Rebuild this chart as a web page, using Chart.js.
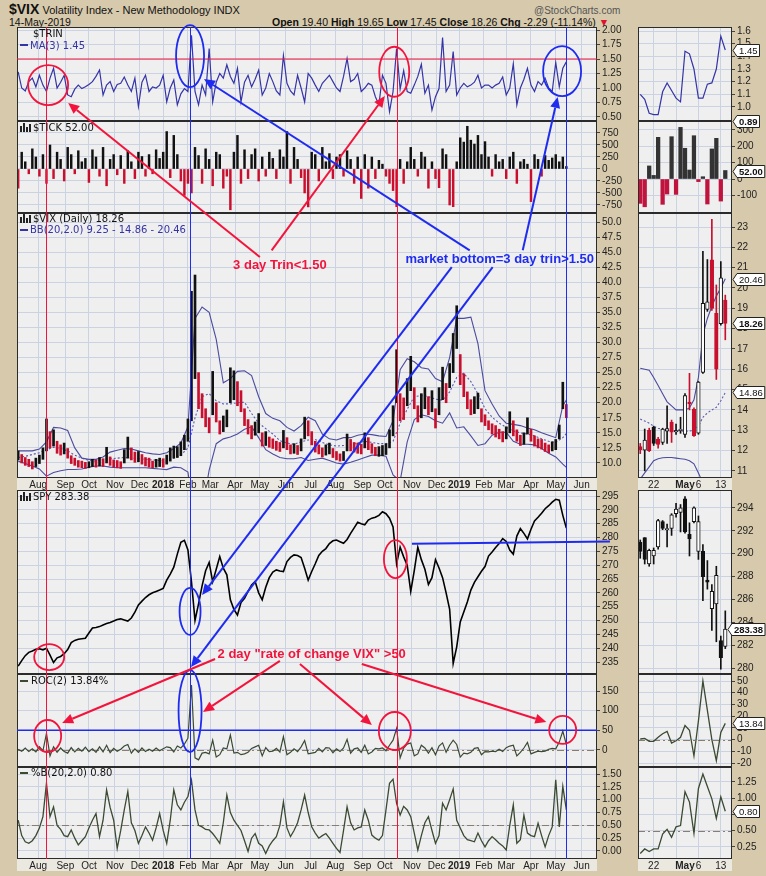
<!DOCTYPE html>
<html>
<head>
<meta charset="utf-8">
<title>$VIX Volatility Index - New Methodology</title>
<script src="https://cdn.jsdelivr.net/npm/chart.js@4.4.1/dist/chart.umd.min.js"></script>
<style>
  html, body { margin: 0; padding: 0; }
  body { width: 766px; height: 876px; position: relative; overflow: hidden; background: #d7c9ab; font-family: "Liberation Sans", Arial, sans-serif; }
  canvas { position: absolute; }
  .hd { position: absolute; white-space: nowrap; color: #111; }
</style>
</head>
<body>
<div class="hd" style="left:9px;top:1px;font-size:11px"><b style="font-size:14px">$VIX</b> Volatility Index - New Methodology INDX</div>
<div class="hd" style="left:534px;top:5px;font-size:10px;color:#555">@StockCharts.com</div>
<div class="hd" style="left:9px;top:16px;font-size:10.5px">14-May-2019</div>
<div class="hd" style="left:272px;top:16px;font-size:10.5px"><b>Open</b> 19.40 <b>High</b> 19.65 <b>Low</b> 17.45 <b>Close</b> 18.26 <b>Chg</b> -2.29 (-11.14%) <span style="color:#e0102c">&#9660;</span></div>
<script>
// ---------- data (main panels: one value every 3 trading days, day 0 = 7-Jul-2017) ----------
const monthLabels = ['Aug','Sep','Oct','Nov','Dec','2018','Feb','Mar','Apr','May','Jun','Jul','Aug','Sep','Oct','Nov','Dec','2019','Feb','Mar','Apr','May','Jun'];
const monthDays = [17,40,60,82,103,123,144,163,184,205,227,248,269,292,311,334,355,374,395,414,435,456,478];

const trinMA = [
  1.28,1.00,0.95,1.11,1.17,1.02,1.22,1.05,0.94,1.17,
  1.34,1.00,1.10,1.22,0.88,0.85,0.98,1.05,0.99,1.02,
  1.06,1.11,1.20,1.31,0.88,1.05,1.11,0.94,1.06,1.08,
  1.19,1.05,0.94,1.17,0.68,1.10,1.22,0.94,1.02,1.00,
  1.05,1.22,0.76,1.00,1.14,0.71,0.90,0.99,0.94,1.91,
  0.94,0.71,1.05,0.88,1.68,0.76,1.10,1.25,1.17,1.40,
  1.20,1.08,1.34,0.76,1.10,1.22,1.02,1.15,1.31,0.88,
  1.00,1.25,1.11,0.95,0.88,1.56,1.08,0.95,0.88,1.22,
  1.00,0.76,1.25,1.17,1.05,0.94,1.08,1.15,1.22,1.11,
  1.00,0.94,1.20,1.51,1.11,1.15,1.25,0.94,1.00,1.08,
  1.05,0.85,0.71,1.22,1.08,0.59,0.94,1.68,0.98,1.30,
  0.94,0.91,1.05,1.20,1.41,0.91,1.05,0.62,0.85,0.99,
  1.87,0.94,1.05,1.63,0.88,1.00,1.08,1.02,1.05,1.10,
  1.22,1.00,1.05,1.05,1.00,1.05,1.08,1.19,0.88,1.00,
  1.42,0.71,1.00,1.15,1.34,1.05,0.94,1.11,1.05,1.17,
  1.00,0.94,1.44,1.02,1.34,1.45
];

const tickVals = [
  -400,350,150,-100,420,250,-150,300,-300,500,
  -200,350,200,-250,450,300,-100,380,150,220,
  -280,400,250,-150,450,-350,200,300,-120,280,
  -300,380,150,-200,350,260,-150,300,-100,400,
  220,350,780,-180,700,300,-250,-550,-300,-500,
  450,280,-300,420,200,-350,350,300,-400,-150,
  -850,350,700,-300,400,-200,300,420,-250,250,
  -150,350,220,-200,400,250,780,-300,450,200,
  -180,-500,-790,350,300,-250,450,150,320,-200,
  250,300,-150,380,200,-300,250,-614,300,-400,
  250,-200,180,100,-150,-300,-450,-785,200,-300,
  150,450,200,-150,350,250,-400,150,-200,-390,
  420,300,-750,-785,150,650,560,890,600,520,
  700,300,570,250,-150,300,150,200,-200,250,
  350,-300,150,200,100,-680,300,200,-150,280,
  180,230,300,150,250,52
];

const vixLow = [
  10.5,10.0,9.6,9.4,9.0,9.4,9.9,10.6,12.0,12.5,
  12.8,11.6,11.3,11.5,10.8,9.9,9.6,9.3,9.2,9.1,
  9.2,9.4,9.3,9.5,9.4,10.0,9.6,9.3,9.2,9.1,
  10.0,10.8,10.5,10.1,10.2,9.8,9.5,9.3,9.2,9.3,
  9.4,9.3,9.8,10.3,10.8,10.9,11.2,12.2,13.6,17.0,
  24.0,19.0,17.5,16.0,15.0,18.0,16.8,14.8,15.2,16.0,
  20.0,20.5,19.5,18.5,16.2,14.8,14.0,14.6,15.0,12.8,
  12.9,12.6,12.4,12.1,11.9,12.5,12.2,11.5,11.6,11.4,
  12.0,14.0,14.5,13.0,11.8,11.5,11.0,11.3,11.5,10.9,
  10.5,10.3,10.4,12.0,12.0,11.8,11.6,11.5,12.5,12.2,
  11.6,11.2,11.1,11.2,11.4,12.5,14.5,20.0,17.0,17.2,
  19.5,22.0,19.0,16.8,17.5,19.0,18.0,18.5,15.8,18.0,
  20.5,20.0,22.5,25.0,29.0,23.0,21.0,19.0,18.0,18.2,
  19.0,16.8,16.2,15.5,14.8,14.3,14.0,13.5,14.0,15.0,
  14.5,13.6,12.9,13.1,14.8,13.6,12.8,12.5,12.3,11.9,
  11.7,12.0,12.2,14.0,19.0,17.5
];
const vixHigh = [
  12.0,11.4,10.9,10.6,10.2,10.8,11.3,12.5,17.3,15.2,
  15.5,13.6,13.0,13.3,12.4,11.2,10.8,10.4,10.3,10.1,
  10.2,10.6,10.5,10.9,10.7,12.6,11.0,10.5,10.4,10.2,
  12.2,14.3,12.5,11.8,11.9,11.4,10.9,10.8,10.3,10.6,
  10.8,10.7,11.3,12.5,12.8,12.7,13.5,14.6,17.3,38.5,
  41.2,25.0,21.5,19.0,17.5,25.2,20.0,17.0,17.8,18.8,
  25.8,25.3,23.5,22.0,19.0,17.2,16.2,16.8,18.2,15.0,
  15.2,14.3,14.0,13.6,13.4,15.4,14.2,13.0,13.2,12.9,
  14.0,17.6,17.0,15.2,13.6,13.0,12.5,13.0,13.3,12.4,
  11.9,11.5,11.9,14.8,13.9,13.4,13.3,13.1,15.0,14.2,
  13.2,12.6,12.7,12.9,13.2,15.5,19.5,28.8,21.5,20.8,
  24.0,27.7,22.5,19.5,21.5,22.5,21.0,22.0,19.0,22.5,
  25.9,23.2,26.5,31.5,36.1,28.0,24.8,21.8,20.5,21.0,
  21.6,19.0,18.0,17.0,16.5,16.2,15.6,15.2,16.0,18.5,
  17.0,15.5,14.6,15.0,17.5,15.6,14.5,14.0,13.9,13.3,
  13.0,13.5,13.9,16.3,23.4,19.7
];

// Bollinger bands: one value every 6 trading days, last value = 14-May-2019
const bbUpper = [
  12.0,12.0,12.0,12.3,13.5,15.9,15.8,15.4,12.5,10.8,
  10.6,10.6,11.0,11.8,12.1,12.4,12.3,12.0,11.7,11.5,
  11.4,11.7,12.4,13.3,16.0,34.0,35.9,35.0,30.5,23.3,
  24.0,25.2,25.3,24.5,21.0,18.2,17.4,17.0,15.9,15.3,
  16.2,17.6,17.0,14.8,14.0,13.8,14.2,14.2,14.6,14.8,
  14.7,14.5,14.4,17.0,25.5,27.3,26.8,25.8,25.6,24.0,
  23.5,27.5,34.0,34.0,34.2,29.8,22.0,19.8,17.8,16.6,
  16.4,16.2,15.8,15.5,15.0,14.6,14.2,19.5,20.46
];
const bbMid = [
  10.9,11.1,11.4,11.7,12.2,12.6,12.4,12.0,11.3,10.8,
  10.4,10.3,10.5,10.7,10.8,10.9,10.8,10.7,10.6,10.5,
  10.4,10.3,10.8,11.3,12.5,17.5,21.0,21.5,20.3,19.8,
  19.8,20.0,20.1,18.2,16.6,15.7,14.8,13.7,13.3,13.1,
  13.5,13.8,13.9,13.4,13.0,12.8,12.9,13.0,13.3,13.6,
  13.4,13.2,13.2,13.6,16.6,18.9,21.0,21.2,21.0,20.6,
  20.4,21.8,24.2,24.9,23.5,21.5,19.0,17.6,16.6,15.9,
  15.3,15.0,14.8,14.5,14.0,13.6,13.4,14.2,14.86
];
const bbLower = [
  10.3,9.9,9.5,9.0,7.8,8.4,8.7,8.9,8.9,9.0,
  9.3,9.5,9.5,9.3,9.2,9.2,9.2,9.2,9.2,9.1,
  9.0,8.9,9.3,9.2,8.5,0.0,2.0,8.8,13.2,14.0,
  14.3,14.8,15.6,16.0,14.2,12.2,11.5,10.9,10.7,10.7,
  10.9,10.4,10.6,10.8,10.4,10.0,9.8,10.1,10.5,10.9,
  11.3,11.3,11.1,8.0,7.0,13.5,17.2,18.0,17.7,17.0,
  16.6,18.3,15.8,16.0,14.5,12.9,13.2,14.6,15.1,15.1,
  13.6,13.1,13.1,13.0,12.4,11.6,11.0,9.8,9.25
];

const spyClose = [
  233.5,235.5,237.3,238.5,239.0,239.6,239.8,239.4,240.0,237.5,
  234.8,236.5,237.0,238.0,239.5,242.0,242.8,243.2,243.4,243.6,
  245.5,247.3,247.5,247.8,248.4,248.9,249.3,249.8,250.4,250.6,
  250.2,249.8,250.9,253.0,255.6,257.0,258.3,259.3,260.0,260.5,
  261.0,261.6,264.6,266.8,269.3,274.0,278.3,279.0,275.5,264.0,
  250.0,256.0,262.5,268.0,271.0,264.0,268.5,273.1,268.9,266.5,
  257.5,254.0,252.0,256.5,258.0,260.5,262.8,264.1,260.0,257.5,
  262.0,265.5,267.5,268.3,267.9,267.7,271.3,272.8,273.7,273.5,
  272.8,268.9,264.6,267.7,270.5,273.5,275.0,276.0,277.8,278.8,
  279.1,278.5,277.9,279.3,281.5,283.5,285.5,285.0,284.6,286.3,
  287.0,287.3,288.0,289.3,288.6,287.0,283.8,270.5,276.5,273.0,
  270.0,260.5,268.0,276.5,272.0,268.5,263.0,265.5,272.0,269.0,
  265.5,260.0,254.0,234.5,240.5,249.5,253.1,256.7,261.0,263.8,
  265.8,267.8,269.5,273.3,274.8,276.4,277.8,279.6,278.6,275.5,
  274.0,280.5,283.2,281.5,279.5,283.0,286.0,287.3,288.8,290.4,
  291.5,292.8,293.8,293.5,288.0,283.4
];

const roc2 = [
  2,-3,5,-4,3,-5,8,-2,42,-15,
  8,-6,5,-4,-8,6,-5,4,-3,7,
  -4,3,-6,8,-5,12,-7,4,-3,2,
  10,14,-8,3,-6,5,-4,2,-3,5,
  -2,3,8,6,-5,10,5,15,30,165,
  -20,-25,-8,-6,-10,25,-18,-12,5,3,
  38,-8,-6,-12,-10,-6,4,8,12,-15,
  6,-4,-3,4,-5,34,-12,-6,3,-4,
  8,24,-10,-8,-6,4,-5,6,5,-7,
  3,-4,5,27,-8,3,5,-6,12,-10,
  -5,4,3,5,-2,12,25,55,-20,5,
  15,18,-15,-10,12,5,-8,6,-12,10,
  18,-6,12,25,14,-18,-8,-10,-6,4,
  6,-12,-4,-5,-3,-4,2,-4,6,10,
  12,-15,-6,5,19,-10,-6,-3,-4,-3,
  2,4,3,20,48,13.84
];

const pctB = [
  0.60,0.30,0.18,0.15,0.20,0.30,0.45,0.67,1.32,0.67,
  0.86,0.50,0.42,0.30,0.28,0.41,0.25,0.12,0.20,0.28,
  0.45,0.60,0.73,0.28,0.60,1.19,0.85,0.60,0.05,0.40,
  0.80,1.16,0.55,0.40,0.15,0.30,0.47,0.35,0.21,0.45,
  0.73,0.40,0.15,0.60,1.19,0.90,0.80,0.95,1.06,1.38,
  0.80,0.50,0.47,0.42,0.41,0.34,0.25,0.15,0.55,1.09,
  0.75,0.60,0.50,0.40,0.20,-0.01,0.25,0.34,0.15,0.10,
  -0.05,0.10,0.20,0.28,0.50,0.96,0.45,0.28,0.40,0.55,
  0.80,1.09,0.75,0.47,0.35,0.25,0.30,0.34,0.25,0.15,
  0.05,-0.03,0.40,0.86,0.55,0.41,0.45,0.47,0.80,0.60,
  0.31,0.25,0.21,0.30,0.80,1.32,1.40,0.93,0.70,0.87,
  0.80,0.67,0.35,0.02,0.30,0.55,0.67,0.40,0.15,0.30,
  0.93,0.80,1.00,1.21,0.60,0.45,0.30,0.22,0.20,0.18,
  0.35,0.20,0.08,0.20,0.28,0.22,0.15,0.10,0.02,0.50,
  0.90,0.15,0.22,0.70,0.35,0.30,0.28,0.54,0.30,0.08,
  0.30,0.47,1.39,0.47,1.26,0.80
];

// ---------- zoomed panels: daily, 16-Apr-2019 .. 14-May-2019 ----------
const miniDayTicks = [3, 8, 10, 13, 18];
const miniDayLabels = ['22', '', 'May', '6', '13'];

const miniTrin = [1.10,1.06,0.95,0.94,0.94,1.12,1.19,1.13,1.07,1.04,1.44,1.42,1.30,1.07,1.07,1.18,1.19,1.30,1.56,1.45];
const miniTick = [-149,-170,80,22,255,-155,-92,259,-94,316,188,55,265,-16,14,-153,184,249,-135,52];

const miniVixOpen  = [12.20,12.02,13.00,13.14,12.57,12.40,12.95,13.39,12.92,12.98,12.80,14.38,14.03,12.85,15.85,18.95,21.38,18.75,18.25,19.40];
const miniVixHigh  = [12.35,13.06,13.10,13.20,12.65,13.10,14.20,13.50,13.30,13.64,14.80,15.80,14.10,15.40,21.80,21.40,23.38,20.15,21.30,19.65];
const miniVixLow   = [11.85,11.00,11.95,12.25,12.12,12.30,12.35,12.40,12.80,12.85,12.65,14.00,12.70,12.80,15.80,18.85,18.90,15.50,18.17,17.45];
const miniVixClose = [12.05,12.52,12.00,12.35,12.30,13.06,13.08,12.90,12.98,13.05,14.70,14.30,12.73,15.37,19.24,19.32,19.00,16.00,20.50,18.26];
const miniBbUpper = [16.05,16.0,15.95,15.6,15.2,14.8,14.4,14.2,14.0,14.0,14.0,14.1,14.5,15.6,17.7,18.5,19.1,19.6,20.0,20.46];
const miniBbMid   = [13.55,13.45,13.35,13.2,13.1,13.05,13.0,12.98,12.98,12.97,12.95,12.96,13.0,13.2,13.64,13.85,14.0,14.13,14.45,14.86];
const miniBbLower = [10.6,10.9,11.2,11.5,11.6,11.65,11.66,11.66,11.63,11.6,11.57,11.5,11.35,10.9,10.4,10.0,9.7,9.5,9.35,9.25];

const miniSpyOpen  = [291.0,291.4,289.1,289.8,290.6,292.8,292.1,292.2,293.5,293.6,294.8,291.7,292.8,290.2,290.2,287.7,285.2,285.6,282.4,281.9];
const miniSpyHigh  = [291.2,291.4,290.4,290.5,293.0,292.9,292.6,293.5,294.4,294.3,295.0,292.7,294.1,293.3,290.8,289.4,287.3,288.9,282.8,285.0];
const miniSpyLow   = [289.6,289.1,288.9,289.1,290.4,292.1,290.6,291.6,293.2,291.9,291.8,289.8,292.7,289.5,285.9,286.9,283.3,282.3,279.9,281.7];
const miniSpyClose = [290.2,289.5,290.3,290.3,292.9,292.2,292.1,293.4,293.9,294.0,291.9,291.3,294.0,292.8,288.0,287.5,286.7,288.1,280.9,283.4];

const miniRoc  = [0.5,1.0,-1.5,-1.5,2,5,7,-3,-1,2,12,8,-14,16,50,25,0,-18,6,13.84];
const miniPctB = [0.15,0.22,0.18,0.22,0.22,0.45,0.52,0.40,0.56,0.58,1.10,0.94,0.46,1.15,1.37,1.18,0.99,0.69,1.02,0.80];

// ---------- axis tick labels ----------
const trinTicks = [0.50,0.75,1.00,1.25,1.50,1.75,2.00];
const tickTicks = [-750,-500,-250,0,250,500,750];
const vixTicks = [10,12.5,15,17.5,20,22.5,25,27.5,30,32.5,35,37.5,40,42.5,45,47.5,50];
const spyTicks = [235,240,245,250,255,260,265,270,275,280,285,290,295];
const rocTicks = [0,50,100,150];
const pctbTicks = [0,0.25,0.5,0.75,1,1.25,1.5];
const miniTrinTicks = [1.0,1.1,1.2,1.3,1.4,1.5,1.6];
const miniTickTicks = [-100,0,100,200,300];
const miniVixTicks = [11,12,13,14,15,16,17,18,19,20,21,22,23];
const miniSpyTicks = [280,282,284,286,288,290,292,294];
const miniRocTicks = [-20,-10,0,10,20,30,40,50];
const miniPctbTicks = [0.25,0.5,0.75,1.0,1.25];

// ---------- layout ----------
const STEP = 3, BB_STEP = 6, LAST_DAY = 465;
const PANELS = {
  trin: { top: 27, bottom: 121 },
  tick: { top: 121, bottom: 213 },
  vix:  { top: 213, bottom: 478, dates: true },
  spy:  { top: 490, bottom: 674 },
  roc:  { top: 674, bottom: 767 },
  pctb: { top: 767, bottom: 859, dates: true }
};
const RED = '#f2143c', BLUE = '#1f2cf0';
const gridColor = '#cbd3e3';
const candleRed = '#c8102e', candleBlack = '#111';
Chart.defaults.font.family = '"Liberation Sans", Arial, sans-serif';
Chart.defaults.font.size = 10;
Chart.defaults.color = '#222';

const series = (arr, step) => arr.map((v, i) => ({ x: Math.min(i * step, LAST_DAY), y: v }));
const daily = arr => arr.map((v, i) => ({ x: i, y: v }));

function addCanvas(left, top, w, h) {
  const cv = document.createElement('canvas');
  cv.width = w; cv.height = h;
  cv.style.left = left + 'px'; cv.style.top = top + 'px';
  cv.style.width = w + 'px'; cv.style.height = h + 'px';
  document.body.appendChild(cv);
  return cv;
}

function panelPlugin(refs, dateH) {
  return {
    id: 'panelBox',
    beforeDraw(chart) {
      const a = chart.chartArea, c = chart.ctx;
      c.save(); c.fillStyle = '#efefef'; c.fillRect(a.left, a.top, a.width, a.height);
      if (dateH) { c.fillStyle = '#ebe8e0'; c.fillRect(a.left, a.bottom, a.width, dateH); }
      c.restore();
    },
    beforeDatasetsDraw(chart) {
      const a = chart.chartArea, c = chart.ctx;
      refs.forEach(r => {
        const y = Math.round(chart.scales.y.getPixelForValue(r)) + 0.5;
        c.save(); c.strokeStyle = '#8c7c6e'; c.lineWidth = 1; c.setLineDash([7, 3, 2, 3]);
        c.beginPath(); c.moveTo(a.left, y); c.lineTo(a.right, y); c.stroke(); c.restore();
      });
    },
    afterDraw(chart) {
      const a = chart.chartArea, c = chart.ctx;
      c.save(); c.strokeStyle = '#2b2b2b'; c.lineWidth = 1;
      c.strokeRect(a.left + 0.5, a.top + 0.5, a.width - 1, a.height - 1); c.restore();
    }
  };
}

function makeChart(side, key, datasets, yMin, yMax, yTicks, fmt, refs) {
  const p = PANELS[key];
  const main = side === 'main';
  const axisW = main ? 40 : 34, plotW = main ? 580 : 94;
  const dateH = p.dates ? 12 : 0, pad = 8;
  const cv = addCanvas(main ? 17 : 638, p.top - pad, plotW + axisW, p.bottom - p.top + 2 * pad + dateH);
  const xt = main ? monthDays : miniDayTicks;
  const xl = main ? monthLabels : miniDayLabels;
  return new Chart(cv, {
    type: 'bar',
    data: { datasets },
    options: {
      responsive: false, animation: false, events: [],
      layout: { padding: { top: pad, bottom: pad, left: 0, right: 0 } },
      plugins: { legend: { display: false }, tooltip: { enabled: false } },
      scales: {
        x: {
          type: 'linear', offset: false,
          min: main ? -1 : -0.5, max: main ? 491 : 20.5,
          afterBuildTicks: s => { s.ticks = xt.map(v => ({ value: v })); },
          afterFit: s => { s.height = dateH; },
          grid: { offset: false, drawTicks: false, color: c => (xl[c.index] === 'May' && !main) ? 'rgba(0,0,0,0)' : gridColor },
          border: { display: false },
          ticks: {
            display: !!p.dates, autoSkip: false, maxRotation: 0, padding: 1,
            font: c => ({ size: 10, weight: /^(20|May)/.test(xl[c.index] || '') && (!main || xl[c.index] !== 'May') ? 'bold' : 'normal' }),
            callback: (v, i) => xl[i]
          }
        },
        y: {
          position: 'right', min: yMin, max: yMax,
          afterBuildTicks: s => { s.ticks = yTicks.map(v => ({ value: v })); },
          afterFit: s => { s.width = axisW; },
          grid: { color: gridColor, tickColor: '#444', tickLength: 3 },
          border: { display: false },
          ticks: { autoSkip: false, padding: 2, callback: v => fmt(v) }
        }
      }
    },
    plugins: [panelPlugin(refs, dateH)]
  });
}

// ---------- main panels ----------
const charts = {}, minis = {};
charts.trin = makeChart('main', 'trin', [
  { type: 'line', data: series(trinMA, STEP), borderColor: '#3434a8', borderWidth: 1.2, pointRadius: 0 }
], 0.431, 2.052, trinTicks, v => v.toFixed(2), []);

charts.tick = makeChart('main', 'tick', [
  { data: series(tickVals, STEP), barThickness: 1.8, backgroundColor: tickVals.map(v => v < 0 ? candleRed : candleBlack) }
], -917, 1000, tickTicks, v => String(v), []);

const vixColors = vixHigh.map((h, i) => {
  if (i === 0) return candleBlack;
  return (h + vixLow[i]) < (vixHigh[i - 1] + vixLow[i - 1]) ? candleRed : candleBlack;
});
charts.vix = makeChart('main', 'vix', [
  { data: vixHigh.map((h, i) => ({ x: i * STEP, y: [vixLow[i], h] })), barThickness: 2, backgroundColor: vixColors, grouped: false, order: 0 },
  { type: 'line', data: series(bbUpper, BB_STEP), borderColor: '#4b4ba0', borderWidth: 1.1, pointRadius: 0, order: 1 },
  { type: 'line', data: series(bbMid, BB_STEP), borderColor: '#5a5ab0', borderWidth: 1.1, borderDash: [2, 2], pointRadius: 0, order: 1 },
  { type: 'line', data: series(bbLower, BB_STEP), borderColor: '#4b4ba0', borderWidth: 1.1, pointRadius: 0, order: 1 }
], 7.5, 51.5, vixTicks, v => v.toFixed(1), []);

charts.spy = makeChart('main', 'spy', [
  { type: 'line', data: series(spyClose, STEP), borderColor: '#000', borderWidth: 1.6, pointRadius: 0 }
], 230.67, 297.17, spyTicks, v => String(v), []);

charts.roc = makeChart('main', 'roc', [
  { type: 'line', data: series(roc2, STEP), borderColor: '#3b4a33', borderWidth: 1.2, pointRadius: 0 }
], -43.3, 193.3, rocTicks, v => String(v), [0]);

charts.pctb = makeChart('main', 'pctb', [
  { type: 'line', data: series(pctB, STEP), borderColor: '#3b4a33', borderWidth: 1.3, pointRadius: 0 }
], -0.156, 1.637, pctbTicks, v => v.toFixed(2), [0.5]);

// ---------- zoomed panels ----------
minis.trin = makeChart('mini', 'trin', [
  { type: 'line', data: daily(miniTrin), borderColor: '#3434a8', borderWidth: 1.2, pointRadius: 0 }
], 0.889, 1.632, miniTrinTicks, v => v.toFixed(1), []);

minis.tick = makeChart('mini', 'tick', [
  { data: daily(miniTick), barThickness: 3.6, backgroundColor: miniTick.map(v => v < 0 ? '#c0143e' : '#333') }
], -208, 355, miniTickTicks, v => String(v), []);

function candleSets(o, h, l, c, colorOf) {
  const cols = c.map((v, i) => colorOf(i));
  return [
    { data: h.map((v, i) => ({ x: i, y: [l[i], v] })), barThickness: 1, backgroundColor: cols, grouped: false, order: 1 },
    { data: o.map((v, i) => ({ x: i, y: [Math.min(v, c[i]), Math.max(v, c[i])] })), barThickness: 3.6, minBarLength: 1,
      backgroundColor: c.map((v, i) => v >= o[i] ? '#fff' : cols[i]), borderColor: cols, borderWidth: 1, borderSkipped: false, grouped: false, order: 0 }
  ];
}
minis.vix = makeChart('mini', 'vix', [
  ...candleSets(miniVixOpen, miniVixHigh, miniVixLow, miniVixClose,
    i => (i === 0 || miniVixClose[i] < miniVixClose[i - 1]) ? candleRed : candleBlack),
  { type: 'line', data: daily(miniBbUpper), borderColor: '#4b4ba0', borderWidth: 1.1, pointRadius: 0, order: 2 },
  { type: 'line', data: daily(miniBbMid), borderColor: '#5a5ab0', borderWidth: 1.1, borderDash: [2, 2], pointRadius: 0, order: 2 },
  { type: 'line', data: daily(miniBbLower), borderColor: '#4b4ba0', borderWidth: 1.1, pointRadius: 0, order: 2 }
], 10.65, 23.69, miniVixTicks, v => String(v), []);

minis.spy = makeChart('mini', 'spy',
  candleSets(miniSpyOpen, miniSpyHigh, miniSpyLow, miniSpyClose, () => candleBlack),
  279.48, 295.57, miniSpyTicks, v => String(v), []);

minis.roc = makeChart('mini', 'roc', [
  { type: 'line', data: daily(miniRoc), borderColor: '#3b4a33', borderWidth: 1.3, pointRadius: 0 }
], -23.4, 56, miniRocTicks, v => String(v), [0]);

minis.pctb = makeChart('mini', 'pctb', [
  { type: 'line', data: daily(miniPctB), borderColor: '#3b4a33', borderWidth: 1.3, pointRadius: 0 }
], 0.065, 1.48, miniPctbTicks, v => v.toFixed(2), [0.5]);

// ---------- annotations (chart coordinates: panel, trading day, value) ----------
const ov = addCanvas(0, 0, 766, 876);
const g = ov.getContext('2d');
function P(set, key, day, val) {
  const c = set[key];
  return [c.canvas.offsetLeft + c.scales.x.getPixelForValue(day), c.canvas.offsetTop + c.scales.y.getPixelForValue(val)];
}
function arrow(a, b, color) {
  const ang = Math.atan2(b[1] - a[1], b[0] - a[0]);
  const head = 11, half = 5;
  const bx = b[0] - head * Math.cos(ang), by = b[1] - head * Math.sin(ang);
  g.strokeStyle = color; g.fillStyle = color; g.lineWidth = 2;
  g.beginPath(); g.moveTo(a[0], a[1]); g.lineTo(bx, by); g.stroke();
  g.beginPath(); g.moveTo(b[0], b[1]);
  g.lineTo(bx + half * Math.sin(ang), by - half * Math.cos(ang));
  g.lineTo(bx - half * Math.sin(ang), by + half * Math.cos(ang));
  g.closePath(); g.fill();
}

// horizontal guide lines
[['trin', 1.5, RED, 1], ['roc', 50, BLUE, 1.5]].forEach(([k, v, col, w]) => {
  const a = charts[k].chartArea, y = P(charts, k, 0, v)[1];
  g.strokeStyle = col; g.lineWidth = w;
  g.beginPath(); g.moveTo(17 + a.left, y); g.lineTo(17 + a.right, y); g.stroke();
});
{
  const a = P(charts, 'spy', 334, 277.7), b = P(charts, 'spy', 502, 278.6);
  g.strokeStyle = BLUE; g.lineWidth = 2;
  g.beginPath(); g.moveTo(a[0], a[1]); g.lineTo(b[0], b[1]); g.stroke();
}

// signal days
[[24, RED], [146, BLUE], [321, RED], [465, BLUE]].forEach(([d, col]) => {
  const x = Math.round(P(charts, 'trin', d, 1)[0]) + 0.5;
  g.strokeStyle = col; g.lineWidth = 1;
  g.beginPath(); g.moveTo(x, PANELS.trin.top); g.lineTo(x, PANELS.pctb.bottom); g.stroke();
});

// circles
const rings = [
  ['trin', 25.4, 1.05, 20, 20, RED], ['trin', 145.8, 1.55, 14, 31, BLUE],
  ['trin', 319, 1.28, 15, 25, RED], ['trin', 461.4, 1.29, 19, 25, BLUE],
  ['spy', 26.3, 236.8, 15, 13, RED], ['spy', 145.8, 253.3, 10.5, 23.5, BLUE], ['spy', 320, 272.2, 11.5, 19, RED],
  ['roc', 25, 35.6, 13.5, 16, RED], ['roc', 145.8, 99, 11.5, 41, BLUE],
  ['roc', 319.5, 48.3, 16, 19, RED], ['roc', 461.9, 50.9, 13.5, 14, RED]
];
rings.forEach(([k, d, v, rx, ry, col]) => {
  const c = P(charts, k, d, v);
  g.strokeStyle = col; g.lineWidth = 1.8;
  g.beginPath(); g.ellipse(c[0], c[1], rx, ry, 0, 0, Math.PI * 2); g.stroke();
});

// arrows: [from panel, day, value] -> [to panel, day, value]
const arrows = [
  [['vix', 205, 44.2], ['trin', 42.4, 0.74], RED],
  [['vix', 215, 45.3], ['trin', 311, 0.86], RED],
  [['spy', 167, 236.1], ['roc', 37.3, 68.7], RED],
  [['spy', 222, 235.4], ['roc', 156.8, 96.7], RED],
  [['spy', 239, 234.3], ['roc', 300, 63.6], RED],
  [['spy', 291.5, 234.3], ['roc', 448, 71.2], RED],
  [['vix', 383, 45.3], ['trin', 157.6, 1.155], BLUE],
  [['vix', 428, 45.3], ['trin', 457.6, 0.845], BLUE],
  [['vix', 367.8, 42.5], ['spy', 156, 259.2], BLUE],
  [['vix', 402.5, 42.5], ['spy', 146.6, 233.2], BLUE]
];
arrows.forEach(([a, b, col]) => arrow(P(charts, ...a), P(charts, ...b), col));

// notes
g.font = 'bold 13px "Liberation Sans", Arial, sans-serif';
g.textAlign = 'center'; g.textBaseline = 'middle';
[['vix', 222, 42.8, '3 day Trin<1.50', RED],
 ['vix', 408.5, 43.8, 'market bottom=3 day trin>1.50', BLUE],
 ['spy', 249, 237.9, '2 day "rate of change VIX" >50', RED]].forEach(([k, d, v, t, col]) => {
  const c = P(charts, k, d, v);
  g.fillStyle = col; g.fillText(t, c[0], c[1]);
});

// panel legends
g.textAlign = 'left';
g.font = '10px "DejaVu Sans", sans-serif';
function legendLine(x, y, col) { g.strokeStyle = col; g.lineWidth = 2; g.beginPath(); g.moveTo(x, y); g.lineTo(x + 8, y); g.stroke(); }
function legendBars(x, y) {
  g.fillStyle = '#222';
  [[0, 6], [3, 9], [6, 5], [9, 8]].forEach(([dx, h]) => g.fillRect(x + dx, y + 4 - h, 2, h));
}
g.fillStyle = '#111'; g.fillText('$TRIN', 33, 34);
legendLine(20, 45, '#3434a8'); g.fillStyle = '#3434a8'; g.fillText('MA(3) 1.45', 30, 46);
legendBars(20, 128); g.fillStyle = '#111'; g.fillText('$TICK 52.00', 33, 128);
legendBars(20, 219); g.fillStyle = '#111'; g.fillText('$VIX (Daily) 18.26', 33, 219);
legendLine(20, 230, '#3434a8'); g.fillStyle = '#3434a8'; g.fillText('BB(20,2.0) 9.25 - 14.86 - 20.46', 30, 230);
legendBars(20, 497); g.fillStyle = '#111'; g.fillText('SPY 283.38', 33, 497);
legendLine(20, 681, '#3b4a33'); g.fillStyle = '#111'; g.fillText('ROC(2) 13.84%', 31, 681);
legendLine(20, 773, '#3b4a33'); g.fillStyle = '#111'; g.fillText('%B(20,2.0) 0.80', 31, 773);

// last-value tags on the zoomed axes
[['trin', 1.45, '1.45', false], ['trin', 0.89, '0.89', true], ['tick', 52, '52.00', true],
 ['vix', 20.46, '20.46', false], ['vix', 18.26, '18.26', true], ['vix', 14.86, '14.86', false],
 ['spy', 283.38, '283.38', true], ['roc', 13.84, '13.84', false], ['pctb', 0.80, '0.80', false]
].forEach(([k, v, t, bold]) => {
  const y = Math.round(P(minis, k, 0, v)[1]);
  g.font = (bold ? 'bold ' : '') + '9.5px "Liberation Sans", Arial, sans-serif';
  const w = g.measureText(t).width + 4, x = Math.min(737, 765 - w);
  g.fillStyle = '#fff'; g.strokeStyle = '#222'; g.lineWidth = 1;
  g.beginPath();
  g.moveTo(x - 4, y + 0.5); g.lineTo(x, y - 5.5); g.lineTo(x + w, y - 5.5); g.lineTo(x + w, y + 6.5); g.lineTo(x, y + 6.5);
  g.closePath(); g.fill(); g.stroke();
  g.fillStyle = '#111'; g.textBaseline = 'middle'; g.fillText(t, x + 2, y + 1);
});
</script>
</body>
</html>
